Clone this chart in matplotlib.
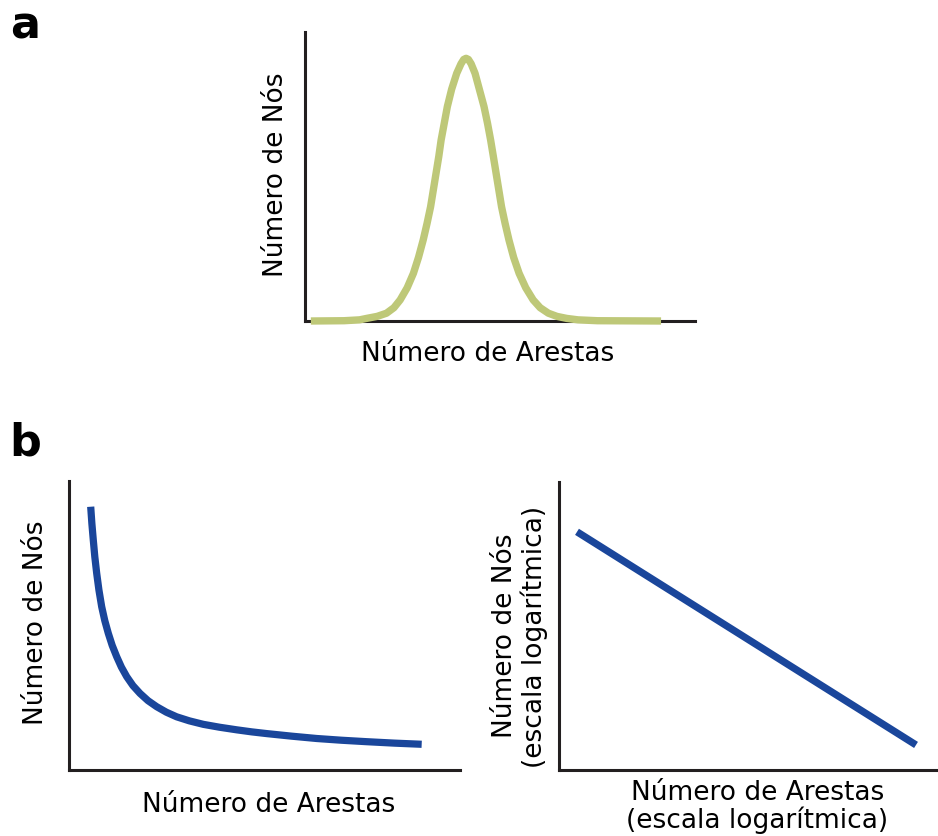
#!/usr/bin/env python3
"""
Distribuição de grau: rede aleatória (a) vs. rede livre de escala (b)
"""

import matplotlib

matplotlib.use("Agg")
import matplotlib.pyplot as plt

W, H = 938, 836

# (a) rede aleatória: curva em sino
random_x = [1.5, 10.0, 14.0, 15.8, 18.5, 20.9, 22.8, 24.4, 26.2, 27.8, 29.1, 30.3,
            31.3, 32.2, 32.9, 33.6, 34.3, 34.9, 35.7, 36.5, 37.6, 38.9, 40.0, 40.7,
            41.3,
            41.9, 42.6, 43.6, 44.7, 45.9, 46.8, 47.6, 48.3, 49.0, 49.7, 50.4, 51.3,
            52.3, 53.5, 54.9, 56.6, 58.5, 60.3, 62.4, 64.6, 67.1, 70.0, 75.0, 91.3]
random_y = [0.0, 0.1, 0.4, 0.9, 1.6, 2.7, 4.6, 7.3, 11.5, 16.5, 22.0, 28.0,
            33.8, 39.5, 45.3, 51.1, 56.9, 62.6, 68.4, 74.2, 80.2, 85.7, 89.0, 90.5,
            90.9,
            90.5, 89.0, 85.7, 80.2, 74.2, 68.4, 62.6, 56.9, 51.1, 45.3, 39.5, 33.8,
            28.0, 22.0, 16.5, 11.5, 7.3, 4.6, 2.7, 1.6, 0.9, 0.4, 0.1, 0.0]

# (b) rede livre de escala: lei de potência
scalefree_x = [5.55, 5.85, 6.21, 6.6, 7.08, 7.65, 8.36, 9.15, 10.05, 11.05, 12.2,
               13.4, 14.76, 16.35, 18.16, 20.2, 22.43, 24.9, 27.54, 30.8, 34.35,
               38.5, 42.9, 46.7, 50.56, 57.0, 63.35, 69.7, 76.1, 83.2, 90.2]
scalefree_y = [91.1, 85.3, 79.6, 73.8, 68.1, 62.3, 56.5, 51.7, 47.3, 43.1, 39.2,
               35.6, 32.3, 29.2, 26.5, 24.0, 21.9, 20.0, 18.4, 17.0, 15.8,
               14.8, 13.9, 13.2, 12.6, 11.7, 10.9, 10.3, 9.8, 9.3, 8.9]

# mesma distribuição em escala log-log
loglog_x = [4.75, 94.2]
loglog_y = [82.7, 8.7]

GREEN = "#BEC878"
BLUE = "#1A469B"
AXIS = "#231F20"
FONT = 19


def add_axes_px(fig, left, top, right, bottom):
    """Cria eixos a partir de coordenadas em pixels"""
    ax = fig.add_axes([left / W, 1 - bottom / H, (right - left) / W, (bottom - top) / H])
    ax.set_xlim(0, 100)
    ax.set_ylim(0, 100)
    for side in ("top", "right"):
        ax.spines[side].set_visible(False)
    for side in ("left", "bottom"):
        ax.spines[side].set_color(AXIS)
        ax.spines[side].set_linewidth(2.2)
    ax.set_xticks([])
    ax.set_yticks([])
    return ax


def text_px(fig, x, y, s, **kw):
    fig.text(x / W, 1 - y / H, s, fontsize=kw.pop("fontsize", FONT), color="black", **kw)


def ylabel_px(fig, x, y, s):
    text_px(fig, x, y, s, rotation=90, rotation_mode="anchor", ha="center", va="baseline")


def main():
    plt.rcParams["font.family"] = ["DejaVu Sans"]
    fig = plt.figure(figsize=(W / 100, H / 100), dpi=100)

    # painel a
    ax_a = add_axes_px(fig, 305, 32, 695, 321)
    ax_a.plot(random_x, random_y, color=GREEN, linewidth=5.3,
              solid_capstyle="butt", solid_joinstyle="round", clip_on=False, zorder=5)
    text_px(fig, 487.5, 361, "Número de Arestas", ha="center", va="baseline")
    ylabel_px(fig, 283, 174.5, "Número de Nós")

    # painel b, escala linear
    ax_b1 = add_axes_px(fig, 69, 481, 460, 770)
    ax_b1.plot(scalefree_x, scalefree_y, color=BLUE, linewidth=5.2,
               solid_capstyle="butt", solid_joinstyle="round", clip_on=False)
    text_px(fig, 269, 811.7, "Número de Arestas", ha="center", va="baseline")
    ylabel_px(fig, 43.3, 622.5, "Número de Nós")

    # painel b, escala logarítmica
    ax_b2 = add_axes_px(fig, 559, 482, 938, 770)
    ax_b2.plot(loglog_x, loglog_y, color=BLUE, linewidth=5.2,
               solid_capstyle="butt", clip_on=False)
    text_px(fig, 757.5, 800.5, "Número de Arestas", ha="center", va="baseline")
    text_px(fig, 756.7, 828.5, "(escala logarítmica)", ha="center", va="baseline")
    ylabel_px(fig, 511.7, 635.8, "Número de Nós")
    ylabel_px(fig, 541.7, 636.5, "(escala logarítmica)")

    # letras dos painéis
    text_px(fig, 10, 38.3, "a", fontsize=32, fontweight="bold", va="baseline")
    text_px(fig, 9.5, 455.7, "b", fontsize=32, fontweight="bold", va="baseline")

    fig.savefig("out.png", dpi=100)


if __name__ == "__main__":
    main()
